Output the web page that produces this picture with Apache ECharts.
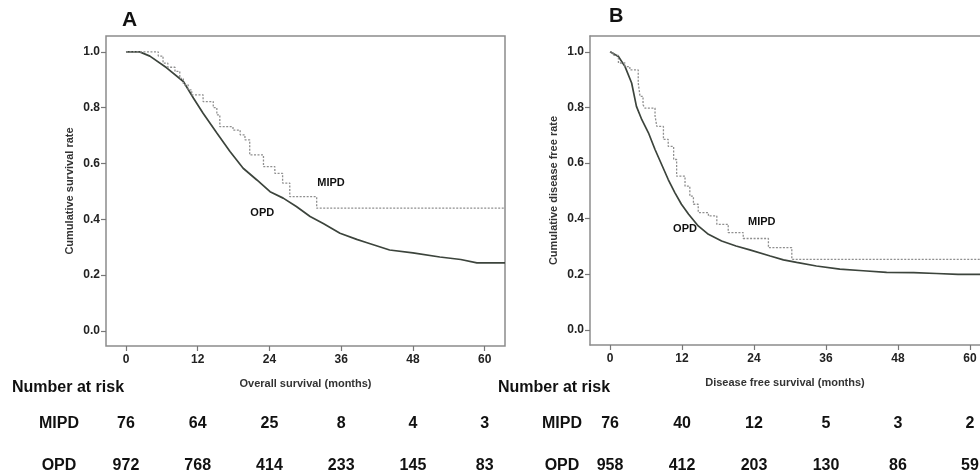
<!DOCTYPE html>
<html>
<head>
<meta charset="utf-8">
<script src="https://cdn.jsdelivr.net/npm/echarts@6/dist/echarts.min.js"></script>
<style>
  html, body { margin: 0; padding: 0; background: #fff; }
  #main { width: 980px; height: 475px; }
</style>
</head>
<body>
<div id="main"></div>
<script>
// A: overall survival (months, cumulative rate)
const osOpdTime = [0, 2.3, 4.0, 6.8, 9.6, 11.3, 12.9, 15.2, 17.4, 19.6, 21.9, 24.1, 26.3, 28.5, 30.8, 33.0, 35.8, 38.6, 40.2, 44.1, 48.0, 52.5, 56.0, 58.7, 63.4];
const osOpdRate = [1.0, 1.0, 0.985, 0.943, 0.894, 0.834, 0.78, 0.709, 0.643, 0.583, 0.541, 0.499, 0.476, 0.446, 0.41, 0.385, 0.35, 0.328, 0.317, 0.29, 0.28, 0.265, 0.256, 0.244, 0.244];
const osMipdTime = [0, 5.4, 6.2, 7.0, 8.2, 9.0, 9.6, 10.4, 11.0, 12.9, 14.6, 15.2, 15.7, 17.9, 19.1, 19.9, 20.7, 23.0, 24.9, 26.2, 27.4, 31.9, 63.4];
const osMipdRate = [1.0, 0.985, 0.96, 0.945, 0.93, 0.905, 0.882, 0.864, 0.846, 0.822, 0.80, 0.774, 0.732, 0.72, 0.703, 0.685, 0.631, 0.589, 0.565, 0.53, 0.481, 0.44, 0.44];

// B: disease free survival
const dfsOpdTime = [0, 1.4, 2.5, 3.6, 4.4, 5.3, 6.4, 7.5, 8.6, 9.7, 10.8, 11.9, 13.1, 14.7, 16.4, 18.6, 21.0, 23.3, 26.7, 28.9, 31.1, 34.4, 38.3, 42.2, 46.1, 50.6, 54.4, 58.0, 63.4];
const dfsOpdRate = [1.0, 0.983, 0.947, 0.888, 0.804, 0.756, 0.709, 0.649, 0.595, 0.541, 0.494, 0.452, 0.416, 0.374, 0.344, 0.32, 0.302, 0.288, 0.266, 0.252, 0.243, 0.23, 0.219, 0.213, 0.207, 0.206, 0.203, 0.20, 0.20];
const dfsMipdTime = [0, 0.5, 1.4, 2.5, 3.3, 4.7, 5.0, 5.5, 5.8, 7.5, 7.8, 8.9, 9.7, 10.6, 11.1, 12.5, 13.3, 13.9, 14.7, 16.4, 17.8, 19.7, 22.2, 26.4, 30.3, 63.4];
const dfsMipdRate = [1.0, 0.987, 0.96, 0.947, 0.935, 0.888, 0.84, 0.81, 0.798, 0.77, 0.732, 0.685, 0.66, 0.613, 0.553, 0.517, 0.481, 0.452, 0.422, 0.41, 0.38, 0.35, 0.329, 0.296, 0.254, 0.254];

// number at risk
const riskTimes = [0, 12, 24, 36, 48, 60];
const rateTicks = [0, 0.2, 0.4, 0.6, 0.8, 1.0];
const osRiskMipd = [76, 64, 25, 8, 4, 3];
const osRiskOpd = [972, 768, 414, 233, 145, 83];
const dfsRiskMipd = [76, 40, 12, 5, 3, 2];
const dfsRiskOpd = [958, 412, 203, 130, 86, 59];
const groups = ['MIPD', 'OPD'];

const FONT = 'Liberation Sans, Arial, sans-serif';
const FRAME = { color: '#8c8c8c', width: 1.5 };
const zip = (xs, ys) => xs.map((x, i) => [x, ys[i]]);

// panel B runs off the right edge of the figure, so its x range is cut short
const xMin = -3.34, xMaxA = 63.4, xMaxB = 61.67;

function plotX(gridIndex, name, max, line) {
  return {
    type: 'value', gridIndex, min: xMin, max,
    name, nameLocation: 'middle', nameGap: 32,
    nameTextStyle: { fontFamily: FONT, fontSize: 11, fontWeight: 'bold', color: '#333' },
    axisLine: { show: line, onZero: false, lineStyle: FRAME }, splitLine: { show: false },
    axisTick: { customValues: riskTimes, length: 5, lineStyle: { color: '#777', width: 1.2 } },
    axisLabel: { customValues: riskTimes, fontFamily: FONT, fontSize: 12, fontWeight: 'bold', color: '#222', margin: 8 }
  };
}
function plotY(gridIndex, name, line) {
  return {
    type: 'value', gridIndex, min: -0.054, max: 1.057,
    name, nameLocation: 'middle', nameGap: 31,
    nameTextStyle: { fontFamily: FONT, fontSize: 11, fontWeight: 'bold', color: '#333' },
    axisLine: { show: line, onZero: false, lineStyle: FRAME }, splitLine: { show: false },
    axisTick: { customValues: rateTicks, length: 5, lineStyle: { color: '#777', width: 1.2 } },
    axisLabel: { customValues: rateTicks, fontFamily: FONT, fontSize: 12, fontWeight: 'bold', color: '#222', margin: 6,
      formatter: v => v.toFixed(1) }
  };
}
function topLine(gridIndex, max) {
  return {
    type: 'value', gridIndex, min: xMin, max, position: 'top',
    axisLine: { show: true, onZero: false, lineStyle: FRAME },
    axisTick: { show: false }, axisLabel: { show: false }, splitLine: { show: false }
  };
}
function tableX(gridIndex, max) {
  return { type: 'value', gridIndex, min: xMin, max, show: false };
}
// rows as a value axis: row 0 = MIPD, row 1 = OPD
function tableY(gridIndex, margin) {
  return {
    type: 'value', gridIndex, min: 0, max: 1, inverse: true,
    axisLine: { show: false, onZero: false }, axisTick: { show: false }, splitLine: { show: false },
    axisLabel: { customValues: [0, 1], formatter: v => groups[v],
      fontFamily: FONT, fontSize: 16, fontWeight: 'bold', color: '#111', align: 'center', margin }
  };
}
function curve(xi, yi, name, data, dotted) {
  return {
    type: 'line', name, xAxisIndex: xi, yAxisIndex: yi, data,
    step: dotted ? 'end' : false, showSymbol: false, clip: true, silent: true,
    lineStyle: dotted ? { color: '#8f8f8f', width: 1.3, type: [2, 1.5] } : { color: '#3c443c', width: 1.7 }
  };
}
function note(xi, yi, text, coord) {
  return {
    type: 'scatter', xAxisIndex: xi, yAxisIndex: yi, data: [], silent: true,
    markPoint: {
      symbol: 'rect', symbolSize: 1, itemStyle: { color: 'rgba(0,0,0,0)', opacity: 1 },
      label: { show: true, position: 'inside', formatter: text, fontFamily: FONT, fontSize: 11, fontWeight: 'bold', color: '#111' },
      data: [{ coord }]
    }
  };
}
function riskRow(xi, yi, row, counts) {
  return {
    type: 'scatter', xAxisIndex: xi, yAxisIndex: yi, silent: true,
    symbolSize: 1, itemStyle: { color: 'rgba(0,0,0,0)', opacity: 1 },
    data: riskTimes.map((t, i) => [t, row, counts[i]]),
    label: { show: true, position: 'inside', formatter: p => p.value[2],
      fontFamily: FONT, fontSize: 16, fontWeight: 'bold', color: '#111' }
  };
}

const option = {
  backgroundColor: '#fff',
  animation: false,
  grid: [
    { left: 106, top: 36, width: 399, height: 310, show: true, borderColor: FRAME.color, borderWidth: FRAME.width },
    { left: 590, top: 36, right: 0, height: 309 },
    { left: 106, top: 424, width: 399, height: 42 },
    { left: 590, top: 424, right: 0, height: 42 }
  ],
  xAxis: [
    plotX(0, 'Overall survival (months)', xMaxA, false),   // 0
    plotX(1, 'Disease free survival (months)', xMaxB, true), // 1
    tableX(2, xMaxA),                                       // 2
    tableX(3, xMaxB),                                       // 3
    topLine(1, xMaxB)                                       // 4
  ],
  yAxis: [
    plotY(0, 'Cumulative survival rate', false),
    plotY(1, 'Cumulative disease free rate', true),
    tableY(2, 47), tableY(3, 28)
  ],
  series: [
    curve(0, 0, 'OPD', zip(osOpdTime, osOpdRate), false),
    curve(0, 0, 'MIPD', zip(osMipdTime, osMipdRate), true),
    curve(1, 1, 'OPD', zip(dfsOpdTime, dfsOpdRate), false),
    curve(1, 1, 'MIPD', zip(dfsMipdTime, dfsMipdRate), true),
    note(0, 0, 'MIPD', [34.3, 0.53]),
    note(0, 0, 'OPD', [22.8, 0.423]),
    note(1, 1, 'MIPD', [25.3, 0.387]),
    note(1, 1, 'OPD', [12.5, 0.362]),
    riskRow(2, 2, 0, osRiskMipd),
    riskRow(2, 2, 1, osRiskOpd),
    riskRow(3, 3, 0, dfsRiskMipd),
    riskRow(3, 3, 1, dfsRiskOpd)
  ],
  graphic: [
    { type: 'text', left: 122, top: 10, style: { text: 'A', font: 'bold 21px ' + FONT, fill: '#111' } },
    { type: 'text', left: 609, top: 6, style: { text: 'B', font: 'bold 20px ' + FONT, fill: '#111' } },
    { type: 'text', left: 12, top: 380, style: { text: 'Number at risk', font: 'bold 16px ' + FONT, fill: '#111' } },
    { type: 'text', left: 498, top: 380, style: { text: 'Number at risk', font: 'bold 16px ' + FONT, fill: '#111' } }
  ]
};

const chart = echarts.init(document.getElementById('main'), null, { renderer: 'canvas' });
chart.setOption(option);
</script>
</body>
</html>
